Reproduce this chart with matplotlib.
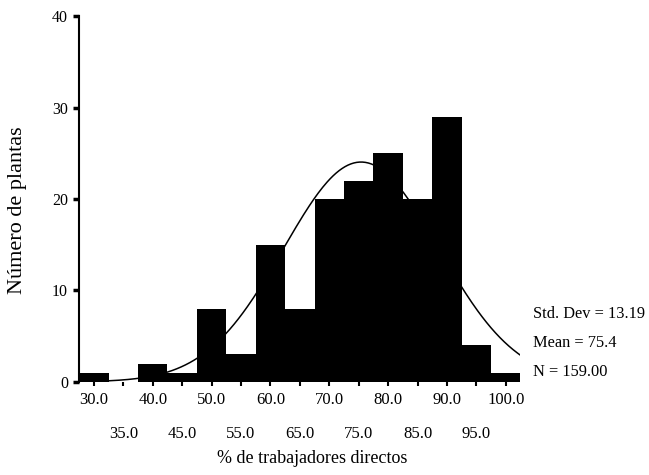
import numpy as np
import matplotlib
matplotlib.use("Agg")
import matplotlib.pyplot as plt

centers = [30, 35, 40, 45, 50, 55, 60, 65, 70, 75, 80, 85, 90, 95, 100]
counts = [1, 0, 2, 1, 8, 3, 15, 8, 20, 22, 25, 20, 29, 4, 1]
tick_labels_top = ["30.0", "40.0", "50.0", "60.0", "70.0", "80.0", "90.0", "100.0"]
tick_labels_bottom = ["35.0", "45.0", "55.0", "65.0", "75.0", "85.0", "95.0"]
std_dev = 13.19
mean = 75.4
n_total = 159.00
bin_width = 5

plt.rcParams['font.family'] = ['Liberation Serif', 'DejaVu Serif']

fig = plt.figure(figsize=(6.49, 4.75), dpi=100)
ax = fig.add_axes([0.122, 0.196, 0.680, 0.770])

edges = [c - bin_width / 2 for c in centers] + [centers[-1] + bin_width / 2]
ax.stairs(counts, edges, fill=True, color='black', linewidth=0)

xs = np.linspace(27.5, 102.5, 300)
ys = n_total * bin_width / (std_dev * np.sqrt(2 * np.pi)) * np.exp(-0.5 * ((xs - mean) / std_dev) ** 2)
ax.plot(xs, ys, color='black', linewidth=1.1)

ax.set_xlim(27.5, 102.5)
ax.set_ylim(0, 40)
for s in ['top', 'right', 'bottom']:
    ax.spines[s].set_visible(False)
ax.spines['left'].set_linewidth(1.5)

ax.set_yticks([0, 10, 20, 30, 40])
ax.set_yticklabels(["0", "10", "20", "30", "40"], fontsize=11.5)
ax.tick_params(axis='y', length=4, width=2.5, pad=4)

ax.set_xticks(centers)
ax.set_xticklabels([""] * len(centers))
ax.tick_params(axis='x', length=3, width=1.5, direction='out')

for i, c in enumerate(centers):
    if i % 2 == 0:
        ax.text(c, -1.05, tick_labels_top[i // 2], ha='center', va='top', fontsize=12)
    else:
        ax.text(c, -4.85, tick_labels_bottom[i // 2], ha='center', va='top', fontsize=12)

fig.text(0.027, 0.558, "Número de plantas", ha='center', va='center', rotation=90, fontsize=16)
fig.text(0.481, 0.034, "% de trabajadores directos", ha='center', va='center', fontsize=13)

fig.text(0.822, 0.340, f"Std. Dev = {std_dev:.2f}", ha='left', va='center', fontsize=11.8)
fig.text(0.822, 0.278, f"Mean = {mean:.1f}", ha='left', va='center', fontsize=11.8)
fig.text(0.822, 0.217, f"N = {n_total:.2f}", ha='left', va='center', fontsize=11.8)

fig.savefig("out.png", dpi=100)
